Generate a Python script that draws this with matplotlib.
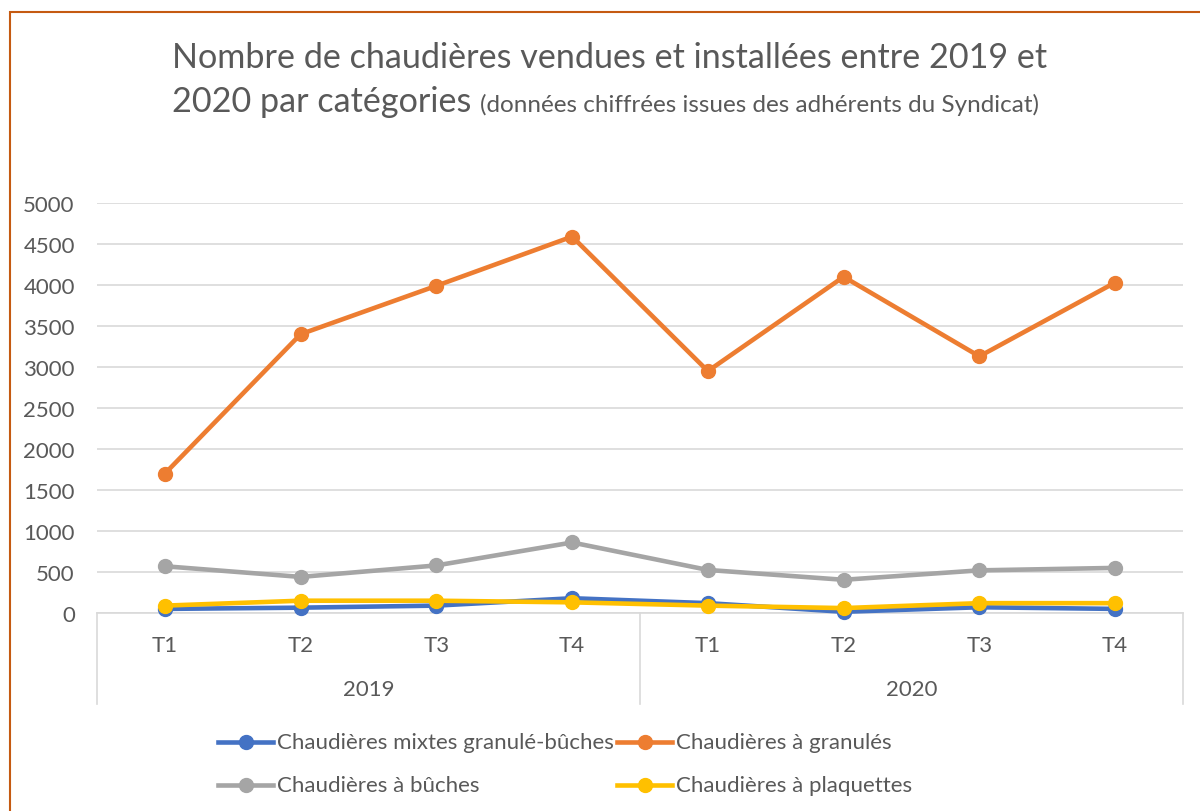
import matplotlib
matplotlib.use("Agg")
import matplotlib.pyplot as plt
from matplotlib.lines import Line2D
from matplotlib.patches import Rectangle

plt.rcParams['font.family'] = ['Lato', 'DejaVu Sans']

quarters = ["T1", "T2", "T3", "T4", "T1", "T2", "T3", "T4"]
years = ["2019", "2020"]
mixtes = [50, 65, 90, 180, 120, 15, 70, 50]
granules = [1700, 3400, 3990, 4590, 2950, 4100, 3130, 4030]
buches = [570, 440, 580, 860, 525, 405, 520, 550]
plaquettes = [90, 150, 150, 130, 90, 60, 120, 120]
series_names = ["Chaudières mixtes granulé-bûches", "Chaudières à granulés",
                "Chaudières à bûches", "Chaudières à plaquettes"]
colors = ["#4472C4", "#ED7D31", "#A5A5A5", "#FFC000"]
yticks = [0, 500, 1000, 1500, 2000, 2500, 3000, 3500, 4000, 4500, 5000]

W, H = 1200, 812
TXT = '#595959'
fig = plt.figure(figsize=(W/100, H/100), dpi=100)
ax = fig.add_axes([97/W, 1-614/H, (1183-97)/W, (614-204)/H])

x = list(range(len(quarters)))
for vals, c in zip([mixtes, granules, buches, plaquettes], colors):
    ax.plot(x, vals, color=c, lw=3.3, marker='o', ms=10, mec=c, mfc=c,
            solid_capstyle='round', clip_on=False, zorder=3)

ax.set_xlim(-0.5, len(quarters)-0.5)
ax.set_ylim(0, 5000)
ax.set_yticks(yticks)
ax.set_yticklabels([str(v) for v in yticks], fontsize=16, color=TXT)
ax.tick_params(axis='y', length=0, pad=16)
ax.set_xticks([])
for s in ax.spines.values():
    s.set_visible(False)
ax.grid(axis='y', color='#D9D9D9', lw=1.2, zorder=0)
ax.set_axisbelow(True)

trans = ax.get_xaxis_transform()
# multi-level category axis
sep_bottom = -(705-614)/(614-204)
for xs in [-0.5, 3.5, 7.5]:
    ax.plot([xs, xs], [0, sep_bottom], transform=trans, color='#D9D9D9', lw=1.2, clip_on=False)
ax.plot([-0.5, 7.5], [0, 0], transform=trans, color='#D9D9D9', lw=1.2, clip_on=False, zorder=1)
for i, q in enumerate(quarters):
    ax.text(i, -(646-614)/(614-204), q, transform=trans, ha='center', va='center',
            fontsize=16, color=TXT)
for j, yv in enumerate(years):
    ax.text(1.5 + 4*j, -(690-614)/(614-204), yv, transform=trans, ha='center', va='center',
            fontsize=16, color=TXT)

# title
fig.text(172/W, 1-58/H, "Nombre de chaudières vendues et installées entre 2019 et",
         ha='left', va='center', fontsize=24.6, color=TXT)
t2 = fig.text(172/W, 1-102/H, "2020 par catégories", ha='left', va='center',
              fontsize=24.6, color=TXT)
fig.canvas.draw()
bb = t2.get_window_extent()
fig.text(bb.x1/W + 9/W, 1-105/H, "(données chiffrées issues des adhérents du Syndicat)",
         ha='left', va='center', fontsize=17.5, color=TXT)

# legend
leg_pos = [(218, 743), (617, 743), (218, 786), (617, 786)]
for (lx, ly), name, c in zip(leg_pos, series_names, colors):
    fig.add_artist(Line2D([lx/W, (lx+55)/W], [1-ly/H, 1-ly/H], color=c, lw=3.3,
                          transform=fig.transFigure))
    fig.add_artist(Line2D([(lx+27.5)/W], [1-ly/H], color=c, marker='o', ms=10,
                          transform=fig.transFigure))
    fig.text((lx+59)/W, 1-ly/H, name, ha='left', va='center', fontsize=16, color=TXT)

# chart border
fig.add_artist(Rectangle((10/W, -0.01), 1.0, 1-13/H + 0.01, transform=fig.transFigure,
                         fill=False, ec='#C55A11', lw=1.5))

fig.savefig("out.png", dpi=100)
